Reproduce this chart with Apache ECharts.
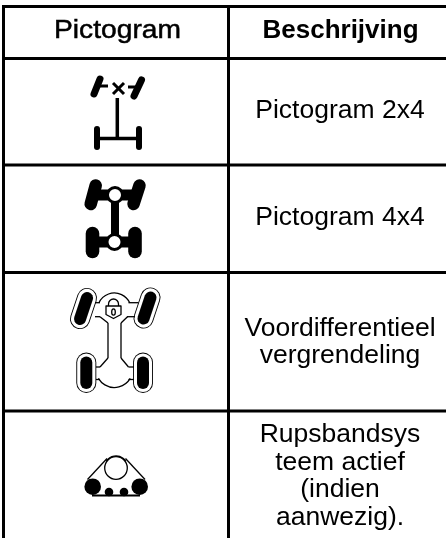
<!DOCTYPE html>
<html>
<head>
<meta charset="utf-8">
<style>html,body{margin:0;padding:0;background:#fff}#c{width:446px;height:538px}</style>
<script src="https://cdn.jsdelivr.net/npm/echarts@6/dist/echarts.min.js"></script>
</head>
<body>
<div id="c"></div>
<script>
const headers = ['Pictogram', 'Beschrijving'];
const descriptions = [
  ['Pictogram 2x4'],
  ['Pictogram 4x4'],
  ['Voordifferentieel', 'vergrendeling'],
  ['Rupsbandsys', 'teem actief', '(indien', 'aanwezig).']
];
const rowLines = [6.5, 58.5, 165, 272.5, 411];
const rowCenters = [111, 218, 342, 476];
const colLines = [3.5, 228.5];

const chart = echarts.init(document.getElementById('c'), null, {renderer: 'canvas'});
const g = [];
const K = '#000', W = '#fff';
function ln(x1, y1, x2, y2, w, c, cap) {
  g.push({type: 'line', silent: true, shape: {x1, y1, x2, y2},
    style: {stroke: c || K, lineWidth: w, lineCap: cap || 'butt', fill: null}});
}
function circ(cx, cy, r, fill, stroke, w) {
  g.push({type: 'circle', silent: true, shape: {cx, cy, r},
    style: {fill: fill || null, stroke: stroke || null, lineWidth: w || 0}});
}
function arc(cx, cy, r, a0, a1, w) {
  g.push({type: 'arc', silent: true, shape: {cx, cy, r, startAngle: a0, endAngle: a1, clockwise: true},
    style: {stroke: K, fill: null, lineWidth: w}});
}
function txt(text, x, y, font, extra) {
  g.push(Object.assign({type: 'text', silent: true, x, y,
    style: Object.assign({text, x: 0, y: 0, font, fill: '#000', textAlign: 'center', textVerticalAlign: 'middle'}, extra && extra.style)},
    extra && extra.el));
}

// table rules
rowLines.forEach(y => ln(colLines[0] - 1.5, y, 446, y, 3));
colLines.forEach(x => ln(x, 5, x, 538, 3));

// header and description text
txt(headers[0], 117.5, 30.5, '26px "Liberation Sans"',
  {el: {scaleX: 1.085}, style: {stroke: '#000', lineWidth: 0.5}});
txt(headers[1], 340.5, 30.5, 'bold 26px "Liberation Sans"');
const lineH = 27.5;
descriptions.forEach((lines, i) => {
  lines.forEach((t, j) => {
    txt(t, 340, rowCenters[i] + (j - (lines.length - 1) / 2) * lineH, '26.5px "Liberation Sans"');
  });
});

// icon 2x4
ln(100, 79, 94, 94, 7, K, 'round');
ln(141.5, 80, 134, 96, 7, K, 'round');
ln(97, 86, 108, 86, 3);
ln(128, 87, 136, 87, 3);
ln(113, 83, 124, 94, 3);
ln(124, 83, 113, 94, 3);
ln(117.3, 98, 117.3, 138.5, 3.5);
ln(97, 138.5, 139, 138.5, 3.5);
ln(97, 129, 97, 147, 6, K, 'round');
ln(139, 129, 139, 147, 6, K, 'round');

// icon 4x4
ln(95.7, 185.5, 90.7, 204, 12.5, K, 'round');
ln(139.5, 185.5, 133.5, 204, 12.5, K, 'round');
ln(95, 195, 135, 195, 11);
ln(115, 195, 115, 242, 8);
ln(92.5, 233.5, 92.5, 251.5, 13.6, K, 'round');
ln(135, 233.5, 135, 251.5, 13.6, K, 'round');
ln(93, 242, 135, 242, 11);
circ(115, 195, 7.5, W, K, 3);
circ(114.5, 242, 7.5, W, K, 3);

// icon differential lock
function tyre(x1, y1, x2, y2) {
  ln(x1, y1, x2, y2, 20, K, 'round');
  ln(x1, y1, x2, y2, 18.2, W, 'round');
  ln(x1, y1, x2, y2, 12, K, 'round');
}
tyre(87, 298, 80, 319);
tyre(150.5, 297.5, 143.5, 318.5);
tyre(86.3, 362.5, 86.3, 383);
tyre(143, 362.5, 143, 383);
const bw = 1.3;
ln(95, 302.7, 100, 302.7, bw);
ln(95, 316.7, 100, 316.7, bw);
ln(128.5, 302.7, 138.5, 302.7, bw);
ln(127, 316.7, 135, 316.7, bw);
arc(114.3, 310, 17, Math.PI * 1.14, Math.PI * 1.86, bw);
ln(100, 316.7, 108, 323, bw);
ln(127.5, 316.7, 121, 323, bw);
ln(108, 323, 108, 358, bw);
ln(121, 323, 121, 358, bw);
ln(108, 358, 100, 367, bw);
ln(121, 358, 128.5, 367, bw);
ln(96, 367, 100, 367, bw);
ln(128.5, 367, 134, 367, bw);
ln(96, 379.5, 100, 379.5, bw);
ln(128.5, 379.5, 134, 379.5, bw);
arc(114.3, 369, 18.5, Math.PI * 0.17, Math.PI * 0.83, bw);
// padlock
arc(113.5, 304, 5, Math.PI, Math.PI * 2, bw);
ln(108.5, 304, 108.5, 307, bw);
ln(118.5, 304, 118.5, 307, bw);
g.push({type: 'polygon', silent: true, shape: {points: [[106, 306], [121, 306], [121, 314.5], [113.5, 318.5], [106, 314.5]]},
  style: {fill: W, stroke: K, lineWidth: bw, lineJoin: 'round'}});
g.push({type: 'ellipse', silent: true, shape: {cx: 113.5, cy: 312, rx: 1.8, ry: 3.2}, style: {fill: W, stroke: K, lineWidth: 1.3}});

// icon track system
ln(87.5, 479.5, 107, 458.5, 1.3);
ln(125.5, 458.5, 145, 479.5, 1.3);
circ(116, 468, 11.3, W, K, 1.3);
arc(116, 468, 12, Math.PI * 1.2, Math.PI * 1.8, 1.3);
circ(92.7, 486.7, 8.3, K);
circ(139.7, 486.7, 8.3, K);
circ(109, 492, 4.3, K);
circ(124, 492, 4.3, K);
ln(92, 495.5, 140, 495.5, 1.8);

chart.setOption({animation: false, backgroundColor: '#fff', graphic: {elements: g}});
</script>
</body>
</html>
